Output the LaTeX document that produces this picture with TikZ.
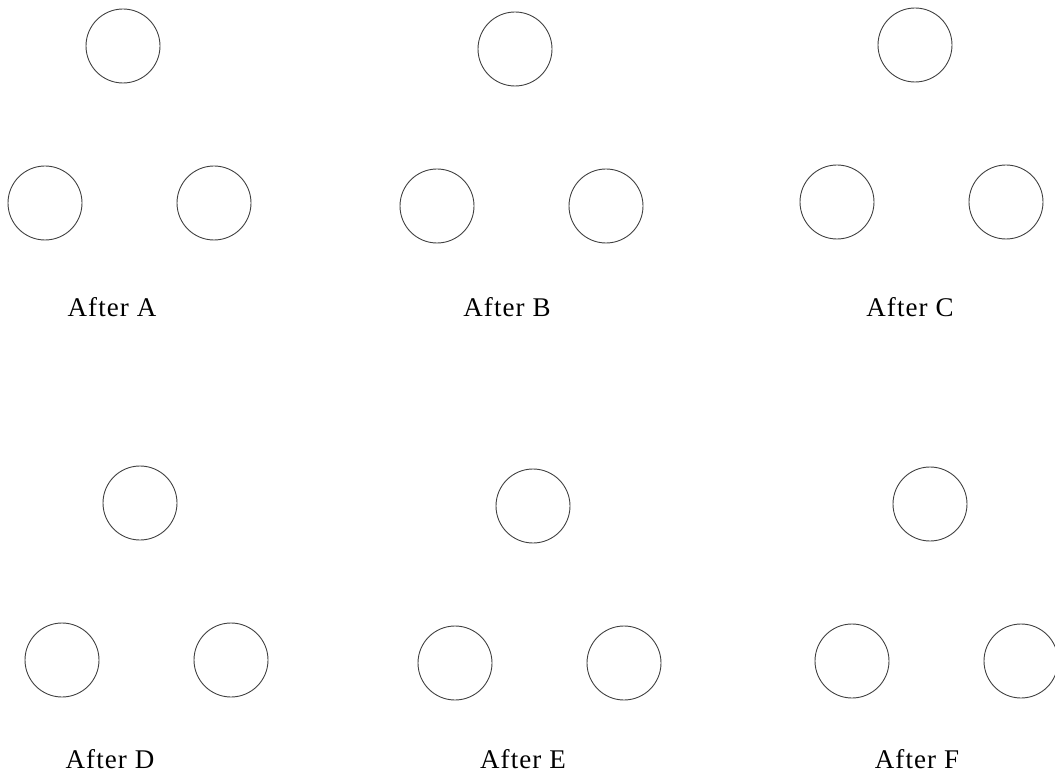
\documentclass[tikz,border=0pt]{standalone}
\usepackage{fontspec}
\setmainfont{Liberation Serif}
\newfontfamily\capfont[LetterSpace=4]{Liberation Serif}
\usetikzlibrary{positioning, calc}

\begin{document}
\begin{tikzpicture}[
  x=1pt, y=-1pt,
  every node/.style={font=\capfont\fontsize{27}{30}\selectfont},
  slot/.style  = {circle, draw=black!75, line width=0.9pt, minimum size=74pt, inner sep=0pt},
  caption/.style = {inner sep=0pt, anchor=base},
]
  \useasboundingbox (0,0) rectangle (1055,775);
  \clip (0,0) rectangle (1055,775);
  % one group per step: top circle, two below it, caption underneath
  \foreach \n/\x/\y/\lx/\ly in {A/123/46/112/317, B/515/49/507/317, C/915/45/910/317,
                                D/140/503/110/768, E/533/506/523/768, F/930/504/917/768} {
    \node[slot] (top-\n)   at (\x,\y) {};
    \node[slot] (left-\n)  at ($(top-\n)+(-78,157)$) {};
    \node[slot] (right-\n) at ($(top-\n)+(91,157)$) {};
    \node[caption] (lbl-\n) at (\lx,\ly) {After \n};
  }
\end{tikzpicture}
\end{document}
